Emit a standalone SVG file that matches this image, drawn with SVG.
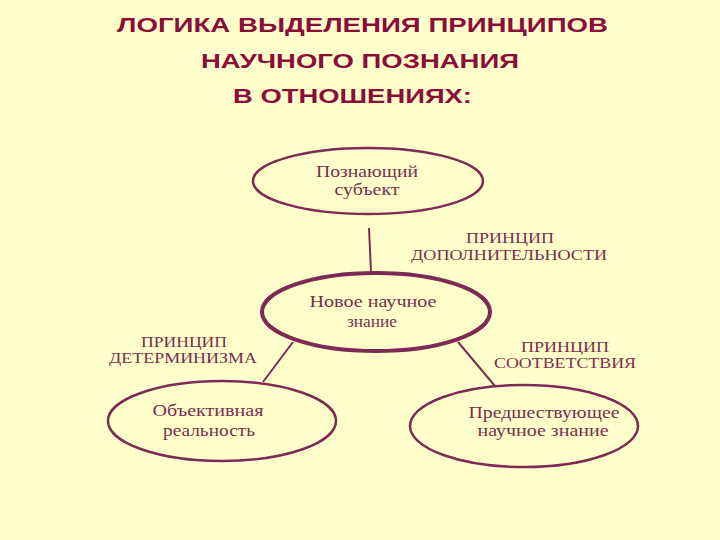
<svg xmlns="http://www.w3.org/2000/svg" width="720" height="540" viewBox="0 0 720 540">
<style>
.title{font-family:"Liberation Sans",Arial,sans-serif;font-weight:bold;font-size:21px;fill:#8B0D3A}
.node{fill:none;stroke:#7D2A55;stroke-width:2.5}
.main{stroke-width:4}
.t{font-family:"Liberation Serif","Times New Roman",serif;font-size:17px;fill:#7A2E50;text-anchor:middle}
.lbl{font-family:"Liberation Serif","Times New Roman",serif;font-size:15px;fill:#7A2E50;text-anchor:middle}
.conn line{stroke:#7D2A55;stroke-width:2}
</style>
<rect width="720" height="540" fill="#FFFFCC"/>
<g id="title">
<text class="title" x="117" y="32" textLength="491" lengthAdjust="spacingAndGlyphs">ЛОГИКА ВЫДЕЛЕНИЯ ПРИНЦИПОВ</text>
<text class="title" x="201" y="68" textLength="318" lengthAdjust="spacingAndGlyphs">НАУЧНОГО ПОЗНАНИЯ</text>
<text class="title" x="233" y="103" textLength="239" lengthAdjust="spacingAndGlyphs">В ОТНОШЕНИЯХ:</text>
</g>
<g id="connectors" class="conn">
<line x1="369" y1="228" x2="371" y2="272"/>
<line x1="293" y1="342" x2="263" y2="382"/>
<line x1="458" y1="342" x2="495" y2="386"/>
</g>
<g id="subject">
<ellipse class="node" cx="368" cy="181" rx="115" ry="33"/>
<text class="t" x="367" y="177" textLength="102" lengthAdjust="spacingAndGlyphs">Познающий</text>
<text class="t" x="367" y="195" textLength="65" lengthAdjust="spacingAndGlyphs">субъект</text>
</g>
<g id="new-knowledge">
<ellipse class="node main" cx="376" cy="312" rx="114" ry="39"/>
<text class="t" x="373" y="307" textLength="127" lengthAdjust="spacingAndGlyphs">Новое научное</text>
<text class="t" x="372" y="327" textLength="50" lengthAdjust="spacingAndGlyphs">знание</text>
</g>
<g id="objective-reality">
<ellipse class="node" cx="222" cy="421" rx="114" ry="40"/>
<text class="t" x="208" y="416" textLength="111" lengthAdjust="spacingAndGlyphs">Объективная</text>
<text class="t" x="209" y="436" textLength="92" lengthAdjust="spacingAndGlyphs">реальность</text>
</g>
<g id="previous-knowledge">
<ellipse class="node" cx="524" cy="426" rx="114" ry="41"/>
<text class="t" x="544" y="418" textLength="151" lengthAdjust="spacingAndGlyphs">Предшествующее</text>
<text class="t" x="543" y="436" textLength="131" lengthAdjust="spacingAndGlyphs">научное знание</text>
</g>
<g id="label-complementarity">
<text class="lbl" x="510" y="243" textLength="88" lengthAdjust="spacingAndGlyphs">ПРИНЦИП</text>
<text class="lbl" x="509" y="260" textLength="196" lengthAdjust="spacingAndGlyphs">ДОПОЛНИТЕЛЬНОСТИ</text>
</g>
<g id="label-determinism">
<text class="lbl" x="184" y="347" textLength="86" lengthAdjust="spacingAndGlyphs">ПРИНЦИП</text>
<text class="lbl" x="183" y="363" textLength="148" lengthAdjust="spacingAndGlyphs">ДЕТЕРМИНИЗМА</text>
</g>
<g id="label-correspondence">
<text class="lbl" x="565" y="352" textLength="88" lengthAdjust="spacingAndGlyphs">ПРИНЦИП</text>
<text class="lbl" x="565" y="368" textLength="142" lengthAdjust="spacingAndGlyphs">СООТВЕТСТВИЯ</text>
</g>
</svg>
